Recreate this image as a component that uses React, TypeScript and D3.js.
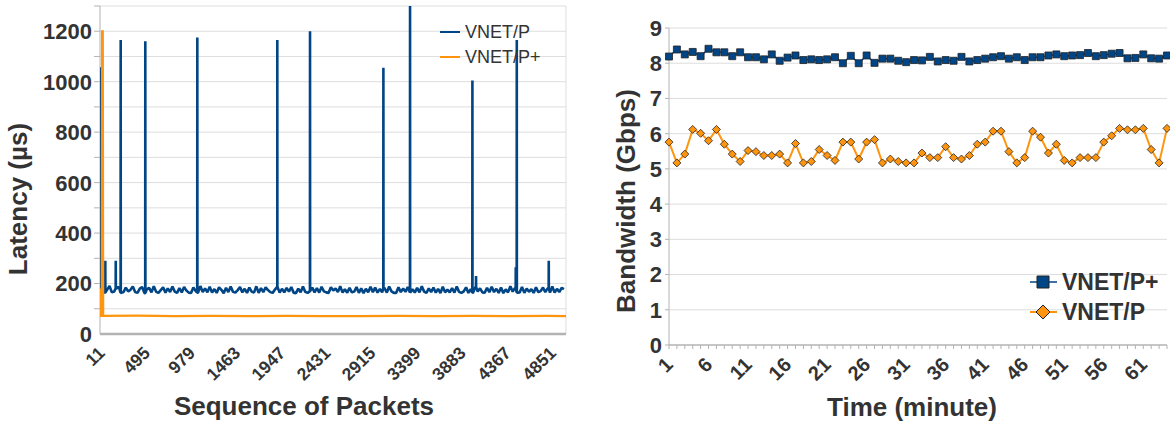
import React from 'react';
import * as d3 from 'd3';

const FONT = '"Liberation Sans", Arial, sans-serif';
const TEXT = '#333333';
const BLUE = '#004586';
const ORANGE = '#ff950e';
const GRID = '#dddddd';
const AXIS = '#b3b3b3';

// ---- left chart: latency of each packet ----
const packetDomain = [1, 5000];
const packetTicks = [11, 495, 979, 1463, 1947, 2431, 2915, 3399, 3883, 4367, 4851];
const latencyTicks = [0, 200, 400, 600, 800, 1000, 1200];
const latencyGrid = [100, 200, 300, 400, 500, 600, 700, 800, 900, 1000, 1100, 1200, 1300];

// VNET/P baseline, one reading every 25 packets starting at packet 3
const baseStart = 3;
const baseStep = 25;
const vnetPBase = [
  172, 185, 164, 176, 190, 165, 168, 181, 187, 163, 166, 184, 169, 175, 188, 166, 163, 180, 186, 162,
  177, 183, 165, 189, 167, 163, 174, 185, 164, 181, 166, 188, 168, 163, 182, 165, 186, 172, 164, 163,
  184, 170, 164, 190, 166, 181, 165, 187, 164, 178, 163, 185, 175, 162, 183, 166, 188, 167, 164, 174,
  186, 165, 179, 163, 184, 168, 164, 189, 163, 182, 166, 185, 174, 166, 163, 176, 187, 164, 179, 165,
  183, 168, 186, 164, 162, 180, 165, 188, 167, 163, 170, 184, 165, 182, 164, 187, 169, 165, 163, 185,
  172, 180, 166, 189, 164, 177, 164, 183, 165, 168, 186, 163, 181, 162, 179, 165, 187, 166, 184, 164,
  178, 165, 182, 164, 188, 169, 163, 163, 185, 166, 180, 167, 186, 164, 177, 164, 183, 165, 189, 168,
  163, 181, 166, 184, 164, 179, 162, 187, 165, 176, 165, 182, 164, 188, 167, 163, 169, 185, 163, 178,
  164, 186, 168, 181, 165, 164, 183, 166, 187, 166, 179, 163, 184, 162, 177, 165, 189, 168, 182, 164,
  165, 186, 163, 180, 167, 178, 163, 185, 166, 170, 184, 166, 181, 164, 188, 164, 179, 166, 183, 178,
];
// VNET/P spikes
const vnetPSpikePackets = [1, 58, 170, 223, 487, 1045, 1903, 2254, 3041, 3327, 3996, 4035, 4461, 4472, 4815];
const vnetPSpikeValues = [1057, 290, 290, 1165, 1160, 1175, 1165, 1200, 1055, 1400, 1005, 230, 265, 1165, 290];

// VNET/P+ readings
const vnetPPlusPackets = [1, 4, 20, 23, 31, 35, 400, 800, 1200, 1600, 2000, 2400, 2800, 3200, 3600, 4000, 4400, 4800, 5000];
const vnetPPlusValues = [180, 72, 72, 1200, 1200, 72, 73, 71, 72, 71, 72, 71, 71, 72, 71, 72, 71, 72, 71];

// ---- right chart: bandwidth per minute ----
const minutes = d3.range(1, 65);
const minuteTicks = [1, 6, 11, 16, 21, 26, 31, 36, 41, 46, 51, 56, 61];
const bandwidthTicks = [0, 1, 2, 3, 4, 5, 6, 7, 8, 9];
const vnetPPlusBw = [
  8.19, 8.39, 8.25, 8.32, 8.2, 8.41, 8.31, 8.31, 8.2, 8.31, 8.17, 8.17, 8.11, 8.25, 8.07, 8.16,
  8.22, 8.09, 8.11, 8.09, 8.11, 8.17, 8.0, 8.21, 8.0, 8.22, 8.01, 8.13, 8.13, 8.07, 8.03, 8.09,
  8.08, 8.18, 8.05, 8.09, 8.07, 8.18, 8.05, 8.09, 8.13, 8.17, 8.2, 8.13, 8.17, 8.09, 8.17, 8.17,
  8.22, 8.25, 8.2, 8.22, 8.23, 8.29, 8.2, 8.23, 8.27, 8.29, 8.14, 8.15, 8.25, 8.14, 8.13, 8.22,
];
const vnetPBw = [
  5.76, 5.17, 5.42, 6.12, 6.01, 5.8, 6.12, 5.7, 5.42, 5.21, 5.52, 5.49, 5.38, 5.38, 5.42, 5.17,
  5.72, 5.17, 5.21, 5.55, 5.38, 5.24, 5.76, 5.76, 5.28, 5.76, 5.83, 5.17, 5.28, 5.21, 5.17, 5.17,
  5.45, 5.32, 5.32, 5.63, 5.32, 5.28, 5.38, 5.7, 5.76, 6.07, 6.07, 5.49, 5.17, 5.32, 6.07, 5.9,
  5.45, 5.7, 5.24, 5.17, 5.32, 5.32, 5.32, 5.76, 5.94, 6.15, 6.11, 6.11, 6.15, 5.55, 5.17, 6.15,
];

const LatencyChart = () => {
  const left = 100, right = 566, top = 6, bottom = 334;
  const x = d3.scaleLinear().domain(packetDomain).range([left, right]);
  const y = d3.scaleLinear().domain([0, 1300]).range([bottom, top]);

  // merge baseline readings with spikes
  const pts: [number, number][] = vnetPBase.map((v, i) => [baseStart + i * baseStep, v]);
  vnetPSpikePackets.forEach((p, i) => {
    const near = vnetPBase[Math.min(vnetPBase.length - 1, Math.max(0, Math.round((p - baseStart) / baseStep)))];
    if (p > 1) pts.push([p - 1, near]);
    pts.push([p, vnetPSpikeValues[i]]);
    pts.push([p + 1, near]);
  });
  pts.sort((a, b) => a[0] - b[0]);
  const plus: [number, number][] = vnetPPlusPackets.map((p, i) => [p, vnetPPlusValues[i]]);

  const line = d3.line<[number, number]>().x(d => x(d[0])).y(d => y(Math.min(d[1], 1300)));

  return (
    <g fontFamily={FONT}>
      <defs>
        <clipPath id="latClip">
          <rect x={left} y={top} width={right - left} height={bottom - top} />
        </clipPath>
      </defs>
      {latencyGrid.map(v => (
        <g key={v}>
          <line x1={left} x2={right} y1={y(v)} y2={y(v)} stroke={GRID} strokeWidth={1} />
          <line x1={left - 6} x2={left} y1={y(v)} y2={y(v)} stroke={AXIS} strokeWidth={1} />
        </g>
      ))}
      <line x1={right} x2={right} y1={top} y2={bottom} stroke={GRID} />
      <line x1={left} x2={left} y1={top} y2={bottom} stroke={AXIS} />
      <g clipPath="url(#latClip)">
        <path d={line(pts) || ''} fill="none" stroke={BLUE} strokeWidth={2.6} strokeLinejoin="bevel" />
        <path d={line(plus) || ''} fill="none" stroke={ORANGE} strokeWidth={2.2} />
      </g>
      <line x1={left} x2={right} y1={bottom} y2={bottom} stroke={AXIS} strokeWidth={2.5} />
      {latencyTicks.map(v => (
        <text key={v} x={left - 8} y={y(v)} dy="0.36em" textAnchor="end" fontSize={22} fontWeight="bold" fill={TEXT}>
          {v}
        </text>
      ))}
      {packetTicks.map(p => (
        <text key={p} transform={`translate(${x(p) + 5},${bottom + 20}) rotate(-45)`} textAnchor="end"
          fontSize={17.5} fontWeight="bold" fill={TEXT}>
          {p}
        </text>
      ))}
      <text x={304} y={415} textAnchor="middle" fontSize={26} fontWeight="bold" fill={TEXT}>
        Sequence of Packets
      </text>
      <text transform={`translate(27,199) rotate(-90)`} textAnchor="middle" fontSize={26} fontWeight="bold" fill={TEXT}>
        Latency (µs)
      </text>
      {/* legend */}
      <line x1={440} x2={460} y1={32} y2={32} stroke={BLUE} strokeWidth={2} />
      <text x={465} y={32} dy="0.36em" fontSize={18} fill={TEXT}>VNET/P</text>
      <line x1={440} x2={460} y1={57} y2={57} stroke={ORANGE} strokeWidth={2} />
      <text x={465} y={57} dy="0.36em" fontSize={18} fill={TEXT}>VNET/P+</text>
    </g>
  );
};

const square = (cx: number, cy: number, s: number) => `M${cx - s / 2},${cy - s / 2}h${s}v${s}h${-s}Z`;
const diamond = (cx: number, cy: number, r: number) => `M${cx},${cy - r}L${cx + r},${cy}L${cx},${cy + r}L${cx - r},${cy}Z`;

const BandwidthChart = () => {
  const left = 669, right = 1167, top = 28, bottom = 345;
  const x = d3.scalePoint<number>().domain(minutes).range([left, right]);
  const y = d3.scaleLinear().domain([0, 9]).range([bottom, top]);
  const line = d3.line<number>().x((_, i) => x(minutes[i]) as number).y(d => y(d));

  return (
    <g fontFamily={FONT}>
      {bandwidthTicks.map(v => (
        <g key={v}>
          {v > 0 && <line x1={left} x2={right} y1={y(v)} y2={y(v)} stroke={GRID} strokeWidth={1} />}
          <line x1={left - 4} x2={left} y1={y(v)} y2={y(v)} stroke={AXIS} />
          <text x={left - 7} y={y(v)} dy="0.36em" textAnchor="end" fontSize={22} fontWeight="bold" fill={TEXT}>
            {v}
          </text>
        </g>
      ))}
      <line x1={left} x2={left} y1={top} y2={bottom} stroke={AXIS} />
      <line x1={left} x2={right} y1={bottom} y2={bottom} stroke={AXIS} strokeWidth={1.5} />
      {minutes.map(m => (
        <line key={m} x1={x(m)} x2={x(m)} y1={bottom} y2={bottom + 4} stroke={AXIS} />
      ))}
      {minuteTicks.map(m => (
        <text key={m} transform={`translate(${(x(m) as number) + 5},${bottom + 21}) rotate(-45)`} textAnchor="end"
          fontSize={20} fontWeight="bold" fill={TEXT}>
          {m}
        </text>
      ))}
      <path d={line(vnetPBw) || ''} fill="none" stroke={ORANGE} strokeWidth={2} />
      {vnetPBw.map((v, i) => (
        <path key={i} d={diamond(x(minutes[i]) as number, y(v), 4)} fill={ORANGE} stroke="#222" strokeWidth={0.8} />
      ))}
      <path d={line(vnetPPlusBw) || ''} fill="none" stroke={BLUE} strokeWidth={1.5} />
      {vnetPPlusBw.map((v, i) => (
        <path key={i} d={square(x(minutes[i]) as number, y(v), 7)} fill={BLUE} stroke="#222" strokeWidth={0.8} />
      ))}
      <text x={912} y={416} textAnchor="middle" fontSize={26} fontWeight="bold" fill={TEXT}>
        Time (minute)
      </text>
      <text transform={`translate(635,201) rotate(-90)`} textAnchor="middle" fontSize={26} fontWeight="bold" fill={TEXT}>
        Bandwidth (Gbps)
      </text>
      {/* legend */}
      <line x1={1030} x2={1057} y1={282} y2={282} stroke={BLUE} strokeWidth={1.5} />
      <path d={square(1043, 282, 12)} fill={BLUE} stroke="#222" strokeWidth={1} />
      <text x={1062} y={282} dy="0.36em" fontSize={23} fontWeight="bold" fill={TEXT}>VNET/P+</text>
      <line x1={1030} x2={1057} y1={312} y2={312} stroke={ORANGE} strokeWidth={2} />
      <path d={diamond(1043, 312, 7)} fill={ORANGE} stroke="#222" strokeWidth={1} />
      <text x={1062} y={312} dy="0.36em" fontSize={23} fontWeight="bold" fill={TEXT}>VNET/P</text>
    </g>
  );
};

export default function App() {
  return (
    <svg width={1170} height={428} style={{ position: 'absolute', left: 0, top: 0, background: '#fff' }}>
      <LatencyChart />
      <BandwidthChart />
    </svg>
  );
}
